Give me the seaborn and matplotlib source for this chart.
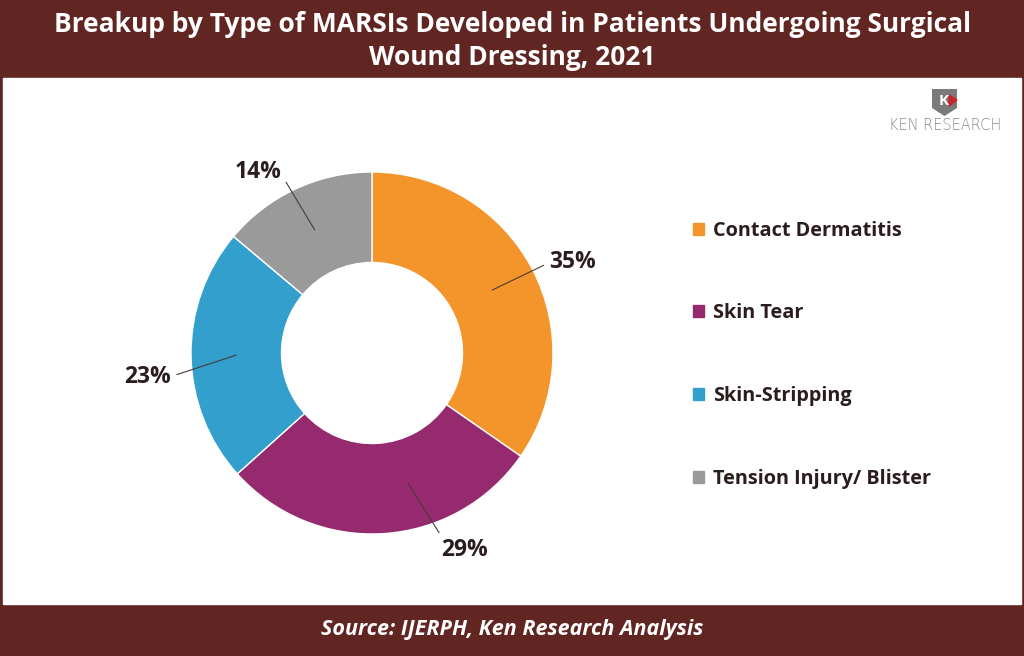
import numpy as np
import matplotlib
matplotlib.use('Agg')
import matplotlib.pyplot as plt
import matplotlib.patches as mpatches
import seaborn as sns

# data
categories = ['Contact Dermatitis', 'Skin Tear', 'Skin-Stripping', 'Tension Injury/ Blister']
shares = [35, 29, 23, 14]
pct_labels = ['35%', '29%', '23%', '14%']
colors = ['#F3952A', '#952A6F', '#339FCD', '#9A9A9A']

title = 'Breakup by Type of MARSIs Developed in Patients Undergoing Surgical\nWound Dressing, 2021'
source = 'Source: IJERPH, Ken Research Analysis'

sns.set_theme(style='white')
plt.rcParams['font.family'] = ['Open Sans', 'DejaVu Sans']

maroon = '#612522'
dark = '#2b1d1d'

fig = plt.figure(figsize=(10.24, 6.56), dpi=100)
W, H = 1024, 656

# background frame
bg = fig.add_axes([0, 0, 1, 1])
bg.set_xlim(0, W)
bg.set_ylim(H, 0)
bg.axis('off')
bg.add_patch(mpatches.Rectangle((0, 0), W, H, color=maroon))
bg.add_patch(mpatches.Rectangle((3, 78), W - 6, 526, color='white'))
bg.text(W / 2, 41, title, color='white', fontsize=19, fontweight='bold',
        ha='center', va='center', linespacing=1.25)
bg.text(W / 2, 630, source, color='white', fontsize=15.5, fontweight='bold',
        fontstyle='italic', ha='center', va='center')

# logo
shield = mpatches.Polygon([(932, 89), (957, 89), (957, 108), (944.5, 116), (932, 108)],
                          closed=True, facecolor='#7a7a7a', edgecolor='none')
bg.add_patch(shield)
bg.text(944, 101, 'K', color='white', fontsize=11, fontweight='bold', ha='center', va='center')
bg.add_patch(mpatches.Polygon([(949, 95), (957, 100), (949, 106)], color='#c8242b'))
bg.text(945, 125, 'KEN RESEARCH', color='#8a8a8a', fontsize=10.5, ha='center', va='center',
        family='DejaVu Sans', fontweight='light')

# donut
cx, cy, R = 372, 353, 181
ax = fig.add_axes([(cx - 220) / W, (H - cy - 220) / H, 440 / W, 440 / H])
ax.set_aspect('equal')
wedges, _ = ax.pie(shares, colors=colors, startangle=90, counterclock=False, radius=1,
                   wedgeprops=dict(width=0.5, edgecolor='white', linewidth=1))
lim = 220 / R
ax.set_xlim(-lim, lim)
ax.set_ylim(-lim, lim)
ax.axis('off')

# label positions (data units relative to radius)
text_pos = [(1.11, 0.50), (0.51, -1.09), (-1.24, -0.13), (-0.63, 1.0)]
rel_pos = [(0, 0.5), (0.1, 0.8), (1, 0.5), (1, 0.4)]
ptr_angle_shift = [0, 12, 0, 0]
for w, lab, tp, rp, sh in zip(wedges, pct_labels, text_pos, rel_pos, ptr_angle_shift):
    ang = np.deg2rad((w.theta1 + w.theta2) / 2 + sh)
    xy = (0.75 * np.cos(ang), 0.75 * np.sin(ang))
    ax.annotate(lab, xy=xy, xytext=tp, fontsize=16.5, fontweight='bold', color=dark,
                ha='center', va='center',
                arrowprops=dict(arrowstyle='-', color='#4a3a3a', lw=0.8,
                                shrinkA=2, shrinkB=0, relpos=rp))

# legend
handles = [mpatches.Patch(color=c, label=l) for c, l in zip(colors, categories)]
leg = fig.legend(handles=handles, loc='upper left', bbox_to_anchor=(675 / W, 1 - 203 / H),
                 frameon=False, fontsize=14.3, labelspacing=3.15, handlelength=0.55,
                 handleheight=0.55, handletextpad=0.45)
for t in leg.get_texts():
    t.set_fontweight('bold')
    t.set_color(dark)

fig.savefig('out.png', dpi=100)
